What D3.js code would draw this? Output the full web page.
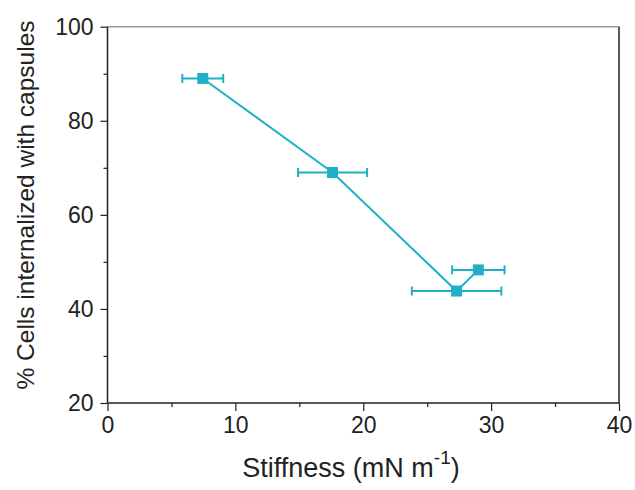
<!DOCTYPE html>
<html><head><meta charset="utf-8">
<script src="https://cdn.jsdelivr.net/npm/d3@7"></script>
<style>body{margin:0;background:#fff}text{font-family:"Liberation Sans",Arial,sans-serif;fill:#222}</style>
</head><body>
<svg id="c" width="635" height="490"></svg>
<script>
const stiffness = [7.45, 17.6, 27.3, 29.0];
const stiffnessErr = [1.6, 2.7, 3.5, 2.05];
const cellsPct = [89.0, 69.0, 43.8, 48.3];
const xTicks = [0, 10, 20, 30, 40];
const yTicks = [20, 40, 60, 80, 100];
const xMinor = [5, 15, 25, 35];
const yMinor = [30, 50, 70, 90];

const svg = d3.select("#c");
const L = 107.5, R = 619, T = 26.7, B = 403;
const x = d3.scaleLinear().domain([0, 40]).range([L, R]);
const y = d3.scaleLinear().domain([20, 100]).range([B, T]);
const col = "#1fb0c8";

svg.append("line").attr("x1", L).attr("x2", R).attr("y1", T).attr("y2", T).attr("stroke", "#999").attr("stroke-width", 1.5);
svg.append("line").attr("x1", R).attr("x2", R).attr("y1", T).attr("y2", B).attr("stroke", "#222").attr("stroke-width", 1.5);

const xa = svg.append("g").attr("transform", `translate(0,${B})`)
  .call(d3.axisBottom(x).tickValues(xTicks).tickSize(8).tickPadding(6).tickFormat(d3.format("d")));
const xm = svg.append("g").attr("transform", `translate(0,${B})`)
  .call(d3.axisBottom(x).tickValues(xMinor).tickSize(4).tickFormat(""));
const ya = svg.append("g").attr("transform", `translate(${L},0)`)
  .call(d3.axisLeft(y).tickValues(yTicks).tickSize(7).tickPadding(7).tickFormat(d3.format("d")));
const ym = svg.append("g").attr("transform", `translate(${L},0)`)
  .call(d3.axisLeft(y).tickValues(yMinor).tickSize(4).tickFormat(""));
[xa, xm, ya, ym].forEach(g => {
  g.select(".domain").attr("stroke", "#222").attr("stroke-width", 1.5);
  g.selectAll(".tick line").attr("stroke", "#222").attr("stroke-width", 1.2);
  g.selectAll("text").style("font-size", "23px").attr("fill", "#222");
});
xm.select(".domain").remove(); ym.select(".domain").remove();
xa.select(".domain").attr("d", `M${L},0H${R}`);
ya.select(".domain").attr("d", `M0,${B}V${T}`);

const data = stiffness.map((s, i) => ({x: s, e: stiffnessErr[i], y: cellsPct[i]}));

svg.append("path").datum(data)
  .attr("d", d3.line().x(d => x(d.x)).y(d => y(d.y)))
  .attr("fill", "none").attr("stroke", col).attr("stroke-width", 2);

const eb = svg.append("g").attr("stroke", col).attr("stroke-width", 2);
data.forEach(d => {
  eb.append("line").attr("x1", x(d.x - d.e)).attr("x2", x(d.x + d.e)).attr("y1", y(d.y)).attr("y2", y(d.y));
  [d.x - d.e, d.x + d.e].forEach(v => eb.append("line").attr("x1", x(v)).attr("x2", x(v)).attr("y1", y(d.y) - 4.5).attr("y2", y(d.y) + 4.5));
});

svg.append("g").selectAll("rect").data(data).join("rect")
  .attr("x", d => x(d.x) - 5.5).attr("y", d => y(d.y) - 5.5)
  .attr("width", 11).attr("height", 11).attr("fill", col);

const xt = svg.append("text").attr("x", 351).attr("y", 477).attr("text-anchor", "middle").style("font-size", "27px");
xt.append("tspan").text("Stiffness (mN m");
xt.append("tspan").attr("dy", -13).style("font-size", "19px").text("-1");
xt.append("tspan").attr("dy", 13).text(")");

svg.append("text").attr("transform", `translate(34,205) rotate(-90)`)
  .attr("text-anchor", "middle").style("font-size", "24.5px")
  .text("% Cells internalized with capsules");
</script>
</body></html>
